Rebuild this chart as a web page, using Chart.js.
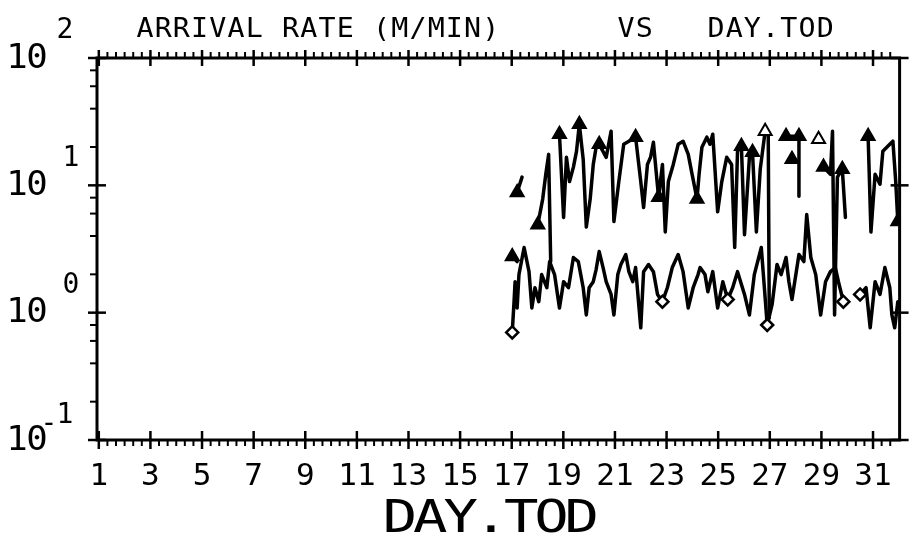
<!DOCTYPE html>
<html>
<head>
<meta charset="utf-8">
<script src="https://cdn.jsdelivr.net/npm/chart.js@4.4.1/dist/chart.umd.min.js"></script>
<style>
  html, body { margin: 0; background: #fff; }
</style>
</head>
<body>
<canvas id="rateChart" width="910" height="535"></canvas>
<script>
// Axis ticks
const tickDays = [1, 3, 5, 7, 9, 11, 13, 15, 17, 19, 21, 23, 25, 27, 29, 31];
const tickLabels = ['1', '3', '5', '7', '9', '11', '13', '15', '17', '19', '21', '23', '25', '27', '29', '31'];
const decades = [0.1, 1, 10, 100];
const decadeExps = ['-1', '0', '1', '2'];

// Upper band (triangles), null = no data
const upperDay = [
    17.02, 17.21, null,
    17.21, 17.40, null,
    18.01, 18.20, 18.32, 18.43, 18.51, null,
    18.85, 19.01, 19.12, 19.24, 19.39, 19.51, 19.62, 19.77, 19.89, 20.04,
    20.16, 20.27, 20.39, 20.66, 20.85, 20.96, 21.15, 21.34, 21.54, 21.80,
    22.00, 22.11, 22.26, 22.38, 22.49, 22.57, 22.69, 22.84, 22.95, 23.07,
    23.26, 23.45, 23.64, 23.84, 23.99, 24.18, 24.26, 24.37, 24.56, 24.68,
    24.79, 24.98, 25.14, 25.33, 25.52, 25.64, 25.75, 25.90, 26.02, 26.21,
    26.33, 26.48, 26.63, 26.82, 26.94, 26.98, null,
    27.63, 28.13, 28.13, null,
    27.86, null,
    28.89, null,
    29.08, 29.35, 29.43, 29.51, 29.62, 29.81, 29.93, null,
    30.81, 30.92, 31.08, 31.27, 31.38, 31.65, 31.77, 31.88, 31.96
];
const upperRate = [
    2.76, 2.52, null,
    8.8, 11.6, null,
    4.9, 7.8, 12.2, 17.5, 2.52, null,
    25.2, 5.6, 16.6, 10.7, 13.9, 18.5, 30.2, 16.0, 4.7, 7.8,
    14.6, 19.9, 21.0, 16.6, 26.6, 5.2, 10.7, 21.0, 22.2, 23.9,
    10.7, 6.7, 14.6, 16.6, 21.8, 14.6, 8.05, 14.6, 4.3, 10.7,
    14.6, 21.0, 22.2, 17.5, 12.2, 7.8, 12.2, 19.9, 23.9, 21.0,
    25.2, 6.2, 10.7, 16.6, 14.6, 3.25, 18.5, 20.3, 4.1, 16.6,
    18.2, 4.3, 13.4, 26.6, 25.2, 0.91, null,
    24.3, 24.3, 8.2, null,
    16.0, null,
    23.0, null,
    13.9, 12.2, 26.6, 0.96, 11.6, 13.4, 5.6, null,
    24.3, 4.3, 12.2, 10.2, 18.5, 21.0, 22.2, 10.7, 5.2
];
const upperFilled = [0, 3, 6, 12, 18, 24, 31, 38, 47, 59, 62, 69, 70, 73, 77, 82, 85, 93];
const upperOpen = [65, 75];

// Lower band (diamonds)
const lowerDay = [
    17.02, 17.09, 17.13, 17.21, 17.28, 17.48, 17.67, 17.78, 17.90, 18.05,
    18.16, 18.36, 18.47, 18.66, 18.85, 19.01, 19.20, 19.39, 19.58, 19.77,
    19.89, 20.00, 20.16, 20.27, 20.39, 20.54, 20.66, 20.85, 20.96, 21.11,
    21.23, 21.42, 21.54, 21.69, 21.80, 22.00, 22.11, 22.30, 22.49, 22.65,
    22.84, 23.03, 23.22, 23.45, 23.64, 23.84, 24.03, 24.22, 24.30, 24.49,
    24.60, 24.79, 24.98, 25.18, 25.37, 25.56, 25.75, 26.02, 26.21, 26.40,
    26.67, 26.79, 26.90, 27.09, 27.28, 27.44, 27.63, 27.74, 27.86, 28.13,
    28.32, 28.43, 28.59, 28.78, 28.97, 29.16, 29.35, 29.54, 29.66, 29.85,
    null,
    30.50, 30.73, 30.89, 31.08, 31.27, 31.46, 31.65, 31.73, 31.84, 31.96
];
const lowerRate = [
    0.70, 1.22, 1.75, 1.09, 1.99, 3.25, 2.10, 1.09, 1.57, 1.22,
    1.99, 1.57, 2.52, 1.99, 1.09, 1.75, 1.57, 2.71, 2.52, 1.57,
    0.96, 1.57, 1.75, 2.18, 3.02, 2.26, 1.75, 1.39, 0.96, 1.99,
    2.39, 2.86, 2.10, 1.75, 2.26, 0.76, 2.10, 2.39, 2.10, 1.39,
    1.22, 1.57, 2.26, 2.86, 2.10, 1.09, 1.57, 1.99, 2.26, 1.99,
    1.46, 2.10, 1.09, 1.75, 1.27, 1.57, 2.10, 1.39, 0.96, 1.99,
    3.25, 1.57, 0.80, 1.16, 2.39, 1.99, 2.71, 1.75, 1.27, 2.86,
    2.52, 5.9, 2.71, 1.99, 0.96, 1.75, 2.10, 2.26, 1.75, 1.22,
    null,
    1.39, 1.57, 0.76, 1.75, 1.39, 2.26, 1.57, 0.96, 0.76, 1.22
];
const lowerMarks = [0, 40, 54, 62, 79, 81];

const FONT = '"DejaVu Sans Mono", "Liberation Mono", monospace';

function spaced(ctx, text, cx, y, step, sx) {
    for (let i = 0; i < text.length; i++) {
        ctx.save();
        ctx.translate(cx + i * step, y);
        ctx.scale(sx, 1);
        ctx.fillText(text[i], 0, 0);
        ctx.restore();
    }
}

function seg(ctx, x1, y1, x2, y2) {
    ctx.beginPath();
    ctx.moveTo(x1, y1);
    ctx.lineTo(x2, y2);
    ctx.stroke();
}

// frame, tick marks and the plotter-style texts
const plotFrame = {
    id: 'plotFrame',
    afterDraw(chart) {
        const ctx = chart.ctx;
        const a = chart.chartArea;
        const xs = chart.scales.x;
        const ys = chart.scales.y;
        ctx.save();
        ctx.strokeStyle = '#000';
        ctx.fillStyle = '#000';
        ctx.lineWidth = 3;
        ctx.strokeRect(a.left, a.top, a.right - a.left, a.bottom - a.top);

        ctx.lineWidth = 2.5;
        tickDays.forEach(d => {
            const px = xs.getPixelForValue(d);
            seg(ctx, px, a.bottom - 9, px, a.bottom + 9);
            seg(ctx, px, a.top - 8, px, a.top + 8);
        });
        ctx.lineWidth = 2;
        for (let k = 1; k < 94; k++) {
            if (k % 6 === 0) continue;
            const px = xs.getPixelForValue(1 + k / 3);
            if (px > a.right - 1) break;
            seg(ctx, px, a.bottom, px, a.bottom + 6);
            seg(ctx, px, a.top - 6, px, a.top);
        }

        ctx.lineWidth = 2.5;
        decades.forEach(v => {
            const py = ys.getPixelForValue(v);
            seg(ctx, a.left - 9, py, a.left + 9, py);
            seg(ctx, a.right - 9, py, a.right + 9, py);
        });
        ctx.lineWidth = 2;
        decades.slice(0, 3).forEach(v => {
            [2, 4, 6, 8].forEach(m => {
                const py = ys.getPixelForValue(v * m);
                seg(ctx, a.left - 7, py, a.left, py);
            });
        });

        // y labels: 10 with exponent
        ctx.textAlign = 'center';
        ctx.textBaseline = 'middle';
        decades.forEach((v, i) => {
            const py = ys.getPixelForValue(v);
            ctx.font = '34px ' + FONT;
            spaced(ctx, '10', 17, py + 1, 20, 1.05);
            ctx.font = '28px ' + FONT;
            const e = decadeExps[i];
            if (e === '-1') {
                ctx.fillText('-', 49, py - 15);
                ctx.fillText('1', 65, py - 24);
            } else {
                ctx.fillText(e, e === '2' ? 65 : 71, py - 27);
            }
        });

        // title
        ctx.textBaseline = 'alphabetic';
        ctx.font = '27px ' + FONT;
        spaced(ctx, 'ARRIVAL RATE (M/MIN)', 145, 37, 18.2, 1.05);
        spaced(ctx, 'VS', 626, 37, 18.2, 1.05);
        spaced(ctx, 'DAY.TOD', 716, 37, 18.2, 1.05);

        // x axis title
        ctx.font = '44px ' + FONT;
        spaced(ctx, 'DAY.TOD', 400, 532, 30.3, 1.3);
        ctx.restore();
    }
};

const radiusFor = (n, marks, r) => Array.from({ length: n }, (_, i) => marks.includes(i) ? r : 0);

new Chart(document.getElementById('rateChart').getContext('2d'), {
    type: 'line',
    data: {
        datasets: [{
            label: 'upper',
            data: upperDay.map((d, i) => ({ x: d, y: upperRate[i] })),
            borderColor: '#000',
            borderWidth: 3.5,
            borderJoinStyle: 'round',
            borderCapStyle: 'round',
            pointStyle: 'triangle',
            pointRadius: radiusFor(upperDay.length, upperFilled.concat(upperOpen), 7.5),
            pointBackgroundColor: upperDay.map((d, i) => upperOpen.includes(i) ? '#fff' : '#000'),
            pointBorderColor: '#000',
            pointBorderWidth: 2,
            spanGaps: false,
            tension: 0
        }, {
            label: 'lower',
            data: lowerDay.map((d, i) => ({ x: d, y: lowerRate[i] })),
            borderColor: '#000',
            borderWidth: 3.5,
            borderJoinStyle: 'round',
            borderCapStyle: 'round',
            pointStyle: 'rectRot',
            pointRadius: radiusFor(lowerDay.length, lowerMarks, 6),
            pointBackgroundColor: '#fff',
            pointBorderColor: '#000',
            pointBorderWidth: 2.5,
            spanGaps: false,
            tension: 0
        }]
    },
    options: {
        responsive: false,
        animation: false,
        devicePixelRatio: 1,
        layout: { padding: { top: 58, right: 4, left: 0, bottom: 0 } },
        plugins: {
            legend: { display: false },
            title: { display: false },
            tooltip: { enabled: false }
        },
        scales: {
            x: {
                type: 'linear',
                min: 0.93,
                max: 32.03,
                grid: { display: false, drawTicks: false },
                border: { display: false },
                afterBuildTicks: s => { s.ticks = tickDays.map(v => ({ value: v })); },
                afterFit: s => { s.height = 95; },
                ticks: {
                    autoSkip: false,
                    maxRotation: 0,
                    minRotation: 0,
                    padding: 18,
                    color: '#000',
                    font: { family: FONT, size: 31 },
                    callback: (v, i) => tickLabels[i]
                }
            },
            y: {
                type: 'logarithmic',
                min: 0.1,
                max: 100,
                grid: { display: false, drawTicks: false },
                border: { display: false },
                ticks: { display: false },
                afterFit: s => { s.width = 97; }
            }
        }
    },
    plugins: [plotFrame]
});
</script>
</body>
</html>
